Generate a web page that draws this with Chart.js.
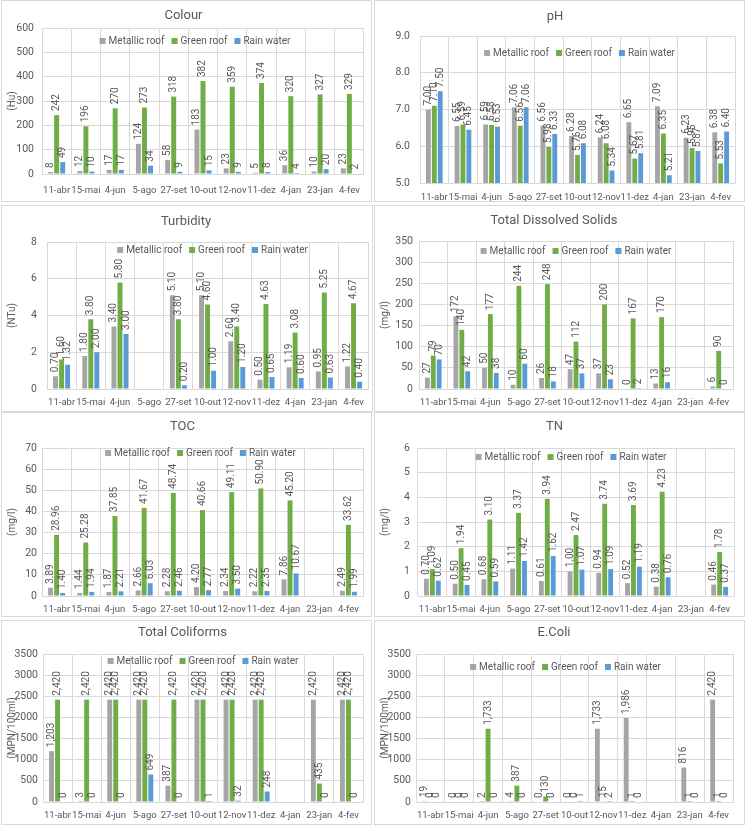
<!DOCTYPE html>
<html>
<head>
<meta charset="utf-8">
<script src="https://cdn.jsdelivr.net/npm/chart.js@4.4.0/dist/chart.umd.min.js"></script>
<style>
body { margin:0; background:#fff; width:746px; height:825px; overflow:hidden; position:relative; }
.panel { position:absolute; border:1px solid #d9d9d9; box-sizing:border-box; background:#fff; overflow:hidden; }
.panel canvas { position:absolute; left:0; top:0; }
</style>
</head>
<body>
<div class="panel" style="left:1px;top:0px;width:371px;height:202px"><canvas id="colour"></canvas></div>
<div class="panel" style="left:374px;top:0px;width:371px;height:202px"><canvas id="ph"></canvas></div>
<div class="panel" style="left:1px;top:205px;width:372px;height:207px"><canvas id="turb"></canvas></div>
<div class="panel" style="left:374px;top:205px;width:371px;height:207px"><canvas id="tds"></canvas></div>
<div class="panel" style="left:1px;top:412px;width:371px;height:205px"><canvas id="toc"></canvas></div>
<div class="panel" style="left:374px;top:412px;width:371px;height:205px"><canvas id="tn"></canvas></div>
<div class="panel" style="left:1px;top:620px;width:371px;height:205px"><canvas id="coli"></canvas></div>
<div class="panel" style="left:374px;top:620px;width:371px;height:205px"><canvas id="ecoli"></canvas></div>
<script>
// fechas de muestreo
const fechas = ['11-abr', '15-mai', '4-jun', '5-ago', '27-set', '10-out', '12-nov', '11-dez', '4-jan', '23-jan', '4-fev'];
const series = ['Metallic roof', 'Green roof', 'Rain water'];

const colourMetal = [8, 12, 17, 124, 58, 183, 23, 5, 36, 10, 23];
const colourGreen = [242, 196, 270, 273, 318, 382, 359, 374, 320, 327, 329];
const colourRain  = [49, 10, 17, 34, 9, 15, 9, 8, 4, 20, 2];

const phMetal = [7.00, 6.55, 6.59, 7.06, 6.56, 6.28, 6.24, 6.65, 7.09, 6.23, 6.38];
const phGreen = [7.10, 6.59, 6.58, 6.56, 5.98, 5.76, 6.08, 5.67, 6.35, 5.95, 5.53];
const phRain  = [7.50, 6.45, 6.53, 7.06, 6.33, 6.08, 5.34, 5.81, 5.21, 5.87, 6.40];

const turbMetal = [0.70, 1.80, 3.40, null, 5.10, 5.10, 2.60, 0.50, 1.19, 0.95, 1.22];
const turbGreen = [1.60, 3.80, 5.80, null, 3.80, 4.60, 3.40, 4.63, 3.08, 5.25, 4.67];
const turbRain  = [1.32, 2.00, 3.00, null, 0.20, 1.00, 1.20, 0.65, 0.60, 0.63, 0.40];

const tdsMetal = [27, 172, 50, 10, 26, 47, 37, 0, 13, null, 6];
const tdsGreen = [79, 140, 177, 244, 248, 112, 200, 167, 170, null, 90];
const tdsRain  = [70, 42, 38, 60, 18, 37, 23, 2, 16, null, 0];

const tocMetal = [3.89, 1.44, 1.87, 2.66, 2.28, 4.20, 2.34, 2.22, 7.86, null, 2.49];
const tocGreen = [28.96, 25.28, 37.85, 41.67, 48.74, 40.66, 49.11, 50.90, 45.20, null, 33.62];
const tocRain  = [1.40, 1.94, 2.21, 6.03, 2.46, 2.77, 3.50, 2.35, 10.67, null, 1.99];

const tnMetal = [0.70, 0.50, 0.68, 1.11, 0.61, 1.00, 0.94, 0.52, 0.38, null, 0.46];
const tnGreen = [1.09, 1.94, 3.10, 3.37, 3.94, 2.47, 3.74, 3.69, 4.23, null, 1.78];
const tnRain  = [0.62, 0.45, 0.59, 1.42, 1.62, 1.07, 1.09, 1.19, 0.76, null, 0.37];

const coliMetal = [1203, 3, 2420, 2420, 387, 2420, 2420, 2420, null, 2420, 2420];
const coliGreen = [2420, 2420, 2420, 2420, 2420, 2420, 2420, 2420, null, 435, 2420];
const coliRain  = [0, 0, 0, 649, 0, 1, 32, 248, null, 0, 0];

const ecoliMetal = [19, 0, 2, 4, 0, 0, 1733, 1986, null, 816, 2420];
const ecoliGreen = [0, 0, 1733, 387, 130, 0, 15, 1, null, 1, 1];
const ecoliRain  = [0, 0, 0, 0, 0, 1, 2, 0, null, 0, 0];

const FUENTE = "Roboto, 'Liberation Sans', sans-serif";
const colores = ['#a5a5a5', '#70ad47', '#5b9bd5'];
const gris = '#595959';
const rejilla = '#d9d9d9';

// etiquetas de valor rotadas encima de cada barra
const etiquetas = {
    id: 'etiquetas',
    afterDatasetsDraw(chart, args, opts) {
        const ctx = chart.ctx;
        ctx.save();
        ctx.font = '10px ' + FUENTE;
        ctx.fillStyle = gris;
        ctx.textAlign = 'left';
        ctx.textBaseline = 'middle';
        chart.data.datasets.forEach((ds, i) => {
            const meta = chart.getDatasetMeta(i);
            meta.data.forEach((bar, j) => {
                const v = ds.data[j];
                if (v === null || v === undefined) return;
                const txt = v.toLocaleString('en-US', {minimumFractionDigits: opts.dec, maximumFractionDigits: opts.dec});
                ctx.save();
                ctx.translate(bar.x, bar.y - 4);
                ctx.rotate(-Math.PI / 2);
                ctx.fillText(txt, 0, 0);
                ctx.restore();
            });
        });
        ctx.restore();
    }
};

// leyenda en una fila dentro del área de trazado
const leyenda = {
    id: 'leyenda',
    afterDraw(chart, args, opts) {
        const ctx = chart.ctx;
        const a = chart.chartArea;
        ctx.save();
        ctx.font = '10px ' + FUENTE;
        ctx.textBaseline = 'middle';
        ctx.textAlign = 'left';
        const lado = 6, sep = 3, hueco = 7;
        const items = chart.data.datasets.map(ds => ({t: ds.label, c: ds.backgroundColor, w: ctx.measureText(ds.label).width}));
        let total = 0;
        items.forEach((it, i) => { total += lado + sep + it.w + (i > 0 ? hueco : 0); });
        let x = (a.left + a.right) / 2 - total / 2 + (opts.dx || 0);
        const y = a.top + opts.dy;
        items.forEach((it) => {
            ctx.fillStyle = it.c;
            ctx.fillRect(x, y - lado / 2, lado, lado);
            x += lado + sep;
            ctx.fillStyle = gris;
            ctx.fillText(it.t, x, y);
            x += it.w + hueco;
        });
        ctx.restore();
    }
};

function crearGrafica(id, titulo, tituloY, datos, yMin, yMax, paso, dec, caja) {
    const canvas = document.getElementById(id);
    const panel = canvas.parentNode;
    canvas.width = panel.clientWidth;
    canvas.height = panel.clientHeight;
    const W = canvas.width, H = canvas.height;
    const altoX = 22;

    const config = {
        type: 'bar',
        data: {
            labels: fechas,
            datasets: datos.map((d, i) => ({
                label: series[i],
                data: d,
                backgroundColor: colores[i],
                borderWidth: 0,
                categoryPercentage: 0.62,
                barPercentage: 0.82
            }))
        },
        options: {
            responsive: false,
            animation: false,
            devicePixelRatio: 1,
            layout: {
                padding: {top: 0, left: 0, right: W - caja.right, bottom: H - caja.bottom - altoX}
            },
            plugins: {
                title: {
                    display: true,
                    text: titulo,
                    color: gris,
                    font: {family: FUENTE, size: 13, weight: 'normal'},
                    padding: {top: caja.titleY - 7.8, bottom: caja.top - caja.titleY - 7.8}
                },
                legend: {display: false},
                tooltip: {enabled: false},
                etiquetas: {dec: dec},
                leyenda: {dy: caja.legendY, dx: caja.legendX}
            },
            scales: {
                x: {
                    grid: {color: rejilla, drawTicks: false, offset: true},
                    border: {color: rejilla},
                    ticks: {
                        color: gris,
                        font: {family: FUENTE, size: 9.5},
                        padding: caja.labelGap,
                        autoSkip: false,
                        maxRotation: 0,
                        minRotation: 0
                    },
                    afterFit: (s) => { s.height = altoX; }
                },
                y: {
                    min: yMin,
                    max: yMax,
                    grid: {color: rejilla, drawTicks: false},
                    border: {display: false},
                    ticks: {
                        stepSize: paso,
                        color: gris,
                        font: {family: FUENTE, size: 10.5},
                        padding: caja.tickGap,
                        callback: (v) => id === 'ph' ? v.toFixed(1) : v
                    },
                    title: {
                        display: tituloY !== '',
                        text: tituloY,
                        color: gris,
                        font: {family: FUENTE, size: 10},
                        padding: {top: 4, bottom: 0}
                    },
                    afterFit: (s) => { s.width = caja.left; }
                }
            }
        },
        plugins: [etiquetas, leyenda]
    };
    return new Chart(canvas.getContext('2d'), config);
}

// posiciones del área de trazado dentro de cada panel
const cajas = {
    colour: {left: 40, right: 363, top: 27, bottom: 173, titleY: 15, labelGap: 11, tickGap: 8, legendY: 13, legendX: -8},
    ph:     {left: 45, right: 360, top: 35, bottom: 182, titleY: 16, labelGap: 9, tickGap: 10, legendY: 17, legendX: 2},
    turb:   {left: 45, right: 368, top: 36, bottom: 183, titleY: 16, labelGap: 8, tickGap: 10, legendY: 8, legendX: 5},
    tds:    {left: 44, right: 358, top: 35, bottom: 183, titleY: 15, labelGap: 8, tickGap: 6, legendY: 10, legendX: 0},
    toc:    {left: 40, right: 361, top: 35, bottom: 183, titleY: 14, labelGap: 8, tickGap: 5, legendY: 5, legendX: -2},
    tn:     {left: 43, right: 359, top: 35, bottom: 183, titleY: 14, labelGap: 8, tickGap: 8, legendY: 9, legendX: -5},
    coli:   {left: 41, right: 361, top: 33, bottom: 181, titleY: 12, labelGap: 8, tickGap: 5, legendY: 7, legendX: 0},
    ecoli:  {left: 41, right: 358, top: 33, bottom: 181, titleY: 12, labelGap: 8, tickGap: 5, legendY: 13, legendX: -9}
};

crearGrafica('colour', 'Colour', '(Hu)', [colourMetal, colourGreen, colourRain], 0, 600, 100, 0, cajas.colour);
crearGrafica('ph', 'pH', '', [phMetal, phGreen, phRain], 5, 9, 1, 2, cajas.ph);
crearGrafica('turb', 'Turbidity', '(NTu)', [turbMetal, turbGreen, turbRain], 0, 8, 2, 2, cajas.turb);
crearGrafica('tds', 'Total Dissolved Solids', '(mg/l)', [tdsMetal, tdsGreen, tdsRain], 0, 350, 50, 0, cajas.tds);
crearGrafica('toc', 'TOC', '(mg/l)', [tocMetal, tocGreen, tocRain], 0, 70, 10, 2, cajas.toc);
crearGrafica('tn', 'TN', '(mg/l)', [tnMetal, tnGreen, tnRain], 0, 6, 1, 2, cajas.tn);
crearGrafica('coli', 'Total Coliforms', '(MPN/100ml)', [coliMetal, coliGreen, coliRain], 0, 3500, 500, 0, cajas.coli);
crearGrafica('ecoli', 'E.Coli', '(MPN/100ml)', [ecoliMetal, ecoliGreen, ecoliRain], 0, 3500, 500, 0, cajas.ecoli);
</script>
</body>
</html>
